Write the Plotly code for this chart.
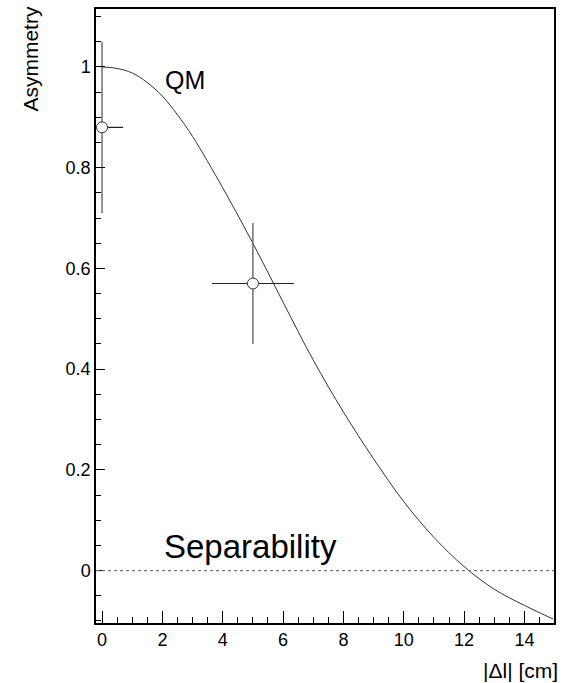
import plotly.graph_objects as go

# QM prediction curve
qm_x = [0, 0.5, 1, 1.5, 2, 2.5, 3, 4, 5, 6, 7, 8, 9, 10, 11, 12, 13, 14, 14.95]
qm_y = [1.000, 0.997, 0.988, 0.969, 0.942, 0.905, 0.862, 0.760, 0.650, 0.533,
        0.418, 0.315, 0.222, 0.137, 0.066, 0.008, -0.037, -0.069, -0.096]

# measured points
pt_x = [0.0, 5.0]
pt_y = [0.88, 0.57]
pt_xerr = [0.7, 1.36]
pt_yerr = [0.17, 0.12]

separability_level = 0.0

x_ticks = [0, 2, 4, 6, 8, 10, 12, 14]
y_ticks = [0, 0.2, 0.4, 0.6, 0.8, 1.0]
y_tick_labels = ["0", "0.2", "0.4", "0.6", "0.8", "1"]

FONT = "Liberation Sans, Arial, sans-serif"

fig = go.Figure()
fig.add_trace(go.Scatter(x=qm_x, y=qm_y, mode="lines",
                         line=dict(color="#333333", width=1, shape="spline", smoothing=1.0),
                         showlegend=False, hoverinfo="skip"))
fig.add_trace(go.Scatter(
    x=pt_x, y=pt_y, mode="markers",
    marker=dict(symbol="circle", size=11, color="white",
                line=dict(color="#333333", width=1)),
    error_x=dict(type="data", array=pt_xerr, visible=True, width=0,
                 color="#222222", thickness=1.1),
    error_y=dict(type="data", array=pt_yerr, visible=True, width=0,
                 color="#666666", thickness=1.4),
    showlegend=False))

fig.add_hline(y=separability_level, line=dict(color="#777777", width=1.2, dash="dot"))

fig.add_annotation(x=2.76, y=0.974, xref="x", yref="y", text="QM", showarrow=False,
                   font=dict(family=FONT, size=25, color="black"))
fig.add_annotation(x=4.93, y=0.047, xref="x", yref="y", text="Separability", showarrow=False,
                   font=dict(family=FONT, size=33, color="black"))
fig.add_annotation(x=-0.143, y=1.008, xref="paper", yref="paper", text="Asymmetry",
                   textangle=-90, showarrow=False, xanchor="center", yanchor="top",
                   font=dict(family=FONT, size=21, color="black"))
fig.add_annotation(x=1.013, y=-0.056, xref="paper", yref="paper", text="|Δl| [cm]",
                   showarrow=False, xanchor="right", yanchor="top",
                   font=dict(family=FONT, size=21, color="black"))

fig.update_xaxes(range=[-0.2, 14.98], tickvals=x_ticks, ticks="inside", ticklen=12,
                 tickwidth=1, tickcolor="black", showline=True, linecolor="black",
                 linewidth=1.5, mirror=True, showgrid=False, zeroline=False,
                 tickfont=dict(family=FONT, size=18, color="black"),
                 minor=dict(dtick=0.5, ticks="inside", ticklen=6, tickcolor="black",
                            tickwidth=1, showgrid=False))
fig.update_yaxes(range=[-0.104, 1.115], tickvals=y_ticks, ticktext=y_tick_labels,
                 ticks="inside", ticklen=9, tickwidth=1, tickcolor="black",
                 showline=True, linecolor="black", linewidth=1.5, mirror=True,
                 showgrid=False, zeroline=False,
                 tickfont=dict(family=FONT, size=18, color="black"),
                 minor=dict(dtick=0.05, ticks="inside", ticklen=5, tickcolor="black",
                            tickwidth=1, showgrid=False))

fig.update_layout(width=563, height=683, margin=dict(l=96, r=7, t=7, b=60),
                  paper_bgcolor="white", plot_bgcolor="white",
                  font=dict(family=FONT, color="black"))

fig.write_html("out.html")
